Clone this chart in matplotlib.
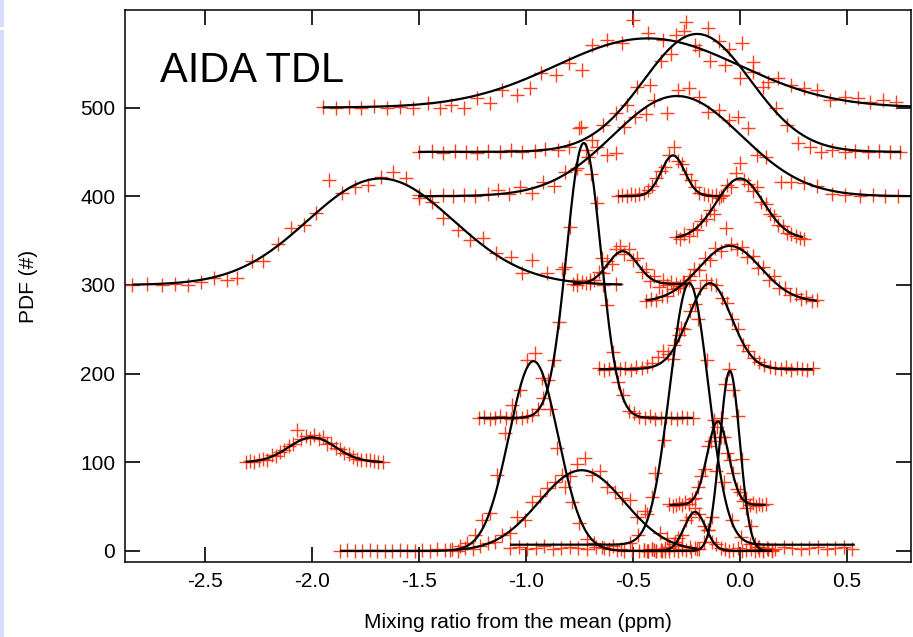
import numpy as np
import matplotlib
matplotlib.use('Agg')
import matplotlib.pyplot as plt
from matplotlib.patches import Rectangle

plt.rcParams['font.family'] = ['Liberation Sans', 'DejaVu Sans']
plt.rcParams['axes.unicode_minus'] = False

# ---------------- Gaussian fit parameters (one entry per curve) ----------------
fit_base   = [500, 450, 400, 352, 400, 300, 301, 281, 205, 150, 100, 0, 0, 7, 0, 52, 0]
fit_amp    = [78, 133, 113, 68, 46, 120, 37, 63, 97, 310, 28, 214, 91, 295, 203, 94, 44]
fit_center = [-0.43, -0.20, -0.294, 0.0, -0.313, -1.68, -0.548, -0.047, -0.14, -0.73,
              -2.0, -0.965, -0.74, -0.237, -0.047, -0.103, -0.21]
fit_sigma  = [0.43, 0.25, 0.30, 0.11, 0.055, 0.34, 0.07, 0.145, 0.10, 0.08,
              0.11, 0.115, 0.20, 0.09, 0.047, 0.05, 0.05]
fit_xmin   = [-1.95, -1.505, -1.505, -0.30, -0.57, -2.84, -0.78, -0.44, -0.66, -1.22,
              -2.31, -1.87, -1.355, -1.075, -0.45, -0.33, -0.45]
fit_xmax   = [0.80, 0.755, 0.80, 0.295, -0.09, -0.55, -0.25, 0.36, 0.34, -0.22,
              -1.67, -0.33, -0.20, 0.537, 0.15, 0.12, 0.15]

# ---------------- measured histogram points ----------------
s1_x = [-1.95,-1.89,-1.83,-1.77,-1.71,-1.65,-1.59,-1.53,-1.46,-1.40,-1.35,-1.29,-1.23,-1.17,-1.11,
        -1.04,-0.98,-0.93,-0.86,-0.80,-0.74,-0.69,-0.62,-0.55,-0.50,-0.43,-0.36,-0.30,-0.25,-0.19,
        -0.14,-0.07,0.01,0.06,0.13,0.18,0.24,0.30,0.36,0.42,0.49,0.55,0.61,0.67,0.73]
s1_y = [501,500,501,500,502,500,501,500,505,500,503,499,511,505,520,514,522,539,537,550,542,570,
        576,573,599,584,576,582,596,565,553,548,573,551,529,533,525,522,520,508,512,511,506,508,506]

s2_x = [-1.50,-1.44,-1.39,-1.33,-1.28,-1.23,-1.18,-1.12,-1.07,-1.02,-0.96,-0.91,-0.85,-0.80,-0.75,
        -0.69,-0.64,-0.58,-0.53,-0.48,-0.42,-0.37,-0.32,-0.26,-0.21,-0.15,-0.10,-0.05,0.00,0.06,
        0.11,0.17,0.22,0.27,0.33,0.38,0.43,0.49,0.54,0.60,0.65,0.70,0.75]
s2_y = [450,451,449,451,450,449,451,450,452,450,451,453,452,455,477,463,480,494,503,523,525,552,
        560,586,570,590,575,566,533,540,523,500,480,460,455,450,452,450,451,450,451,450,450]

s3_x = [-1.50,-1.45,-1.39,-1.34,-1.29,-1.24,-1.18,-1.13,-1.08,-1.03,-0.97,-0.92,-0.87,-0.82,-0.76,
        -0.71,-0.67,-0.62,-0.58,-0.54,-0.49,-0.44,-0.40,-0.34,-0.29,-0.24,-0.19,-0.15,-0.10,-0.05,
        -0.01,0.04,0.08,0.12,0.19,0.24,0.30,0.36,0.43,0.49,0.56,0.62,0.68,0.74]
s3_y = [401,400,401,400,401,400,402,407,403,410,404,416,412,427,432,444,455,447,449,478,489,493,
        508,494,520,522,512,495,497,486,489,477,446,444,416,416,415,411,403,401,400,401,400,400]

s4_x = [-0.30,-0.28,-0.26,-0.24,-0.22,-0.20,-0.18,-0.16,-0.14,-0.12,-0.10,-0.08,-0.06,-0.04,-0.02,
        0.00,0.02,0.04,0.06,0.08,0.10,0.12,0.14,0.16,0.18,0.20,0.22,0.24,0.26,0.28,0.30]
s4_y = [354,352,357,355,363,362,372,374,385,380,398,401,413,410,426,437,418,414,406,410,394,391,
        380,378,368,366,359,357,355,353,352]

s5_x = [-0.57,-0.55,-0.53,-0.51,-0.49,-0.47,-0.45,-0.43,-0.41,-0.39,-0.37,-0.35,-0.33,-0.31,-0.29,
        -0.27,-0.25,-0.23,-0.21,-0.19,-0.17,-0.15,-0.13,-0.11,-0.09]
s5_y = [400,401,400,402,401,403,404,407,412,420,428,433,447,455,440,436,425,418,410,404,402,401,
        400,401,400]

s6_x = [-2.84,-2.77,-2.70,-2.64,-2.58,-2.52,-2.46,-2.40,-2.35,-2.28,-2.23,-2.16,-2.10,-2.04,-1.98,
        -1.92,-1.86,-1.80,-1.74,-1.68,-1.62,-1.56,-1.50,-1.44,-1.39,-1.32,-1.26,-1.20,-1.14,-1.07,
        -1.02,-0.97,-0.90,-0.83,-0.76,-0.70,-0.64,-0.58]
s6_y = [300,301,300,301,300,303,308,306,308,327,327,346,364,367,381,418,404,410,413,422,427,420,
        398,393,375,362,351,353,336,332,313,328,313,318,306,302,300,301]

s7_x = [-0.78,-0.76,-0.74,-0.72,-0.70,-0.68,-0.66,-0.64,-0.62,-0.60,-0.58,-0.56,-0.54,-0.52,-0.50,
        -0.48,-0.46,-0.44,-0.42,-0.40,-0.38,-0.36,-0.34,-0.32,-0.30,-0.28,-0.26]
s7_y = [301,300,303,302,306,305,314,313,327,324,340,344,335,341,328,330,315,318,304,310,298,305,
        300,303,301,299,302]

s8_x = [-0.44,-0.415,-0.39,-0.365,-0.34,-0.315,-0.29,-0.265,-0.24,-0.215,-0.19,-0.165,-0.14,-0.115,
        -0.09,-0.065,-0.04,-0.015,0.01,0.035,0.06,0.085,0.11,0.135,0.16,0.185,0.21,0.235,0.26,
        0.285,0.31,0.335,0.36]
s8_y = [282,284,283,288,287,295,296,303,305,318,317,330,328,342,338,364,346,340,343,331,333,319,
        320,306,310,296,297,289,290,284,286,282,283]

s9_x = [-0.66,-0.635,-0.61,-0.585,-0.56,-0.535,-0.51,-0.485,-0.46,-0.435,-0.41,-0.385,-0.36,-0.335,
        -0.31,-0.285,-0.26,-0.235,-0.21,-0.185,-0.16,-0.135,-0.11,-0.085,-0.06,-0.035,-0.01,0.015,
        0.04,0.065,0.09,0.115,0.14,0.165,0.19,0.215,0.24,0.265,0.29,0.315,0.34]
s9_y = [206,204,205,207,205,206,204,207,206,209,212,219,225,222,232,243,250,270,278,296,306,301,
        300,285,280,262,250,232,226,218,213,210,207,206,205,207,204,206,205,204,206]

s10_x = [-1.22,-1.195,-1.17,-1.145,-1.12,-1.095,-1.07,-1.045,-1.02,-0.995,-0.97,-0.945,-0.92,-0.895,
         -0.87,-0.845,-0.82,-0.795,-0.77,-0.745,-0.72,-0.695,-0.67,-0.645,-0.62,-0.595,-0.57,-0.545,
         -0.52,-0.495,-0.47,-0.445,-0.42,-0.395,-0.37,-0.345,-0.32,-0.295,-0.27,-0.245,-0.22]
s10_y = [150,151,149,150,152,150,149,151,150,152,153,160,172,193,215,258,320,365,430,478,452,425,
         392,330,277,224,190,176,158,156,151,150,152,149,150,151,150,149,151,150,150]

s11_x = [-2.31,-2.29,-2.27,-2.25,-2.23,-2.21,-2.19,-2.17,-2.15,-2.13,-2.11,-2.09,-2.07,-2.05,-2.03,
         -2.01,-1.99,-1.97,-1.95,-1.93,-1.91,-1.89,-1.87,-1.85,-1.83,-1.81,-1.79,-1.77,-1.75,-1.73,
         -1.71,-1.69,-1.67]
s11_y = [100,101,100,102,104,103,108,107,112,114,118,121,136,126,130,127,131,126,128,121,122,116,
         115,110,109,106,104,103,102,102,101,100,100]

s12_x = [-1.87,-1.835,-1.80,-1.765,-1.73,-1.695,-1.66,-1.625,-1.59,-1.555,-1.52,-1.485,-1.45,-1.415,
         -1.38,-1.345,-1.31,-1.275,-1.24,-1.205,-1.17,-1.135,-1.10,-1.065,-1.03,-0.995,-0.96,-0.925,
         -0.89,-0.855,-0.82,-0.785,-0.75,-0.715,-0.68,-0.645,-0.61,-0.575,-0.54,-0.505,-0.47,-0.435,
         -0.40,-0.365,-0.33]
s12_y = [0,1,0,0,1,0,0,0,1,0,0,1,0,2,1,2,5,9,18,35,43,86,133,165,181,215,223,195,160,116,72,55,
         32,14,9,4,2,1,0,1,0,0,1,0,0]

s13_x = [-1.355,-1.32,-1.285,-1.25,-1.215,-1.18,-1.145,-1.11,-1.075,-1.04,-1.005,-0.97,-0.935,-0.90,
         -0.865,-0.83,-0.795,-0.76,-0.725,-0.69,-0.655,-0.62,-0.585,-0.55,-0.515,-0.48,-0.445,-0.41,
         -0.375,-0.34,-0.305,-0.27,-0.235,-0.20]
s13_y = [1,0,3,2,6,9,10,18,20,38,35,55,62,71,78,86,84,98,105,86,90,72,66,60,57,38,45,61,20,15,10,
         6,4,2]

s14_x = [-1.075,-1.035,-0.995,-0.955,-0.915,-0.875,-0.835,-0.795,-0.755,-0.715,-0.675,-0.635,-0.595,
         -0.555,-0.515,-0.475,-0.435,-0.395,-0.355,-0.315,-0.275,-0.235,-0.195,-0.155,-0.115,-0.075,
         -0.035,0.005,0.045,0.085,0.125,0.165,0.205,0.245,0.285,0.325,0.365,0.405,0.445,0.485,0.525]
s14_y = [3,4,2,3,5,2,3,4,3,2,4,3,5,2,9,18,42,88,125,216,251,310,262,215,128,78,35,16,8,4,3,2,4,3,
         2,3,4,2,3,4,2]

s15_x = [-0.45,-0.43,-0.41,-0.39,-0.37,-0.35,-0.33,-0.31,-0.29,-0.27,-0.25,-0.23,-0.21,-0.19,-0.17,
         -0.15,-0.13,-0.11,-0.09,-0.07,-0.05,-0.03,-0.01,0.01,0.03,0.05,0.07,0.09,0.11,0.13,0.15]
s15_y = [1,0,2,0,1,0,3,1,0,2,1,0,3,2,10,24,38,90,128,188,205,182,152,104,48,28,8,4,1,2,0]

s16_x = [-0.33,-0.315,-0.30,-0.285,-0.27,-0.255,-0.24,-0.225,-0.21,-0.195,-0.18,-0.165,-0.15,-0.135,
         -0.12,-0.105,-0.09,-0.075,-0.06,-0.045,-0.03,-0.015,0.0,0.015,0.03,0.045,0.06,0.075,0.09,
         0.105,0.12]
s16_y = [53,51,52,54,52,55,53,58,60,72,84,92,118,124,148,140,150,128,110,102,88,70,66,56,58,52,54,
         51,53,52,53]

s17_x = [-0.45,-0.43,-0.41,-0.39,-0.37,-0.35,-0.33,-0.31,-0.29,-0.27,-0.25,-0.23,-0.21,-0.19,-0.17,
         -0.15,-0.13,-0.11,-0.09,-0.07,-0.05,-0.03,-0.01,0.01,0.03,0.05,0.07,0.09,0.11,0.13,0.15]
s17_y = [1,0,2,0,1,3,4,8,15,18,35,38,48,42,28,24,10,8,3,2,0,1,3,0,1,2,0,1,0,2,1]

x_ticks = [-2.5, -2.0, -1.5, -1.0, -0.5, 0.0, 0.5]
x_tick_labels = ['-2.5', '-2.0', '-1.5', '-1.0', '-0.5', '0.0', '0.5']
y_ticks = [0, 100, 200, 300, 400, 500]
y_tick_labels = ['0', '100', '200', '300', '400', '500']

series = [(s1_x, s1_y), (s2_x, s2_y), (s3_x, s3_y), (s4_x, s4_y), (s5_x, s5_y), (s6_x, s6_y),
          (s7_x, s7_y), (s8_x, s8_y), (s9_x, s9_y), (s10_x, s10_y), (s11_x, s11_y),
          (s12_x, s12_y), (s13_x, s13_y), (s14_x, s14_y), (s15_x, s15_y), (s16_x, s16_y),
          (s17_x, s17_y)]

W, H = 913, 637
fig = plt.figure(figsize=(W / 100, H / 100), dpi=100)
fig.patches.append(Rectangle((0, 0), 4 / W, 1, transform=fig.transFigure,
                             facecolor='#d8dbfb', edgecolor='none', zorder=0))
fig.patches.append(Rectangle((0, 1 - 30 / H), 4 / W, 3 / H, transform=fig.transFigure,
                             facecolor='white', edgecolor='none', zorder=1))

ax = fig.add_axes([125 / W, 75 / H, 786 / W, 552 / H])

for sx, sy in series:
    ax.plot(sx, sy, linestyle='none', marker='+', markersize=10, markeredgewidth=1.0,
            color='#ff2a00', alpha=0.9, zorder=2)

for b, a, c, s, x0, x1 in zip(fit_base, fit_amp, fit_center, fit_sigma, fit_xmin, fit_xmax):
    xx = np.linspace(x0, x1, 400)
    ax.plot(xx, b + a * np.exp(-(xx - c) ** 2 / (2 * s ** 2)), color='black', lw=1.6,
            zorder=3, solid_capstyle='butt')

ax.set_xlim(-2.875, 0.8)
ax.set_ylim(-12.5, 610)
ax.set_xticks(x_ticks)
ax.set_xticklabels(x_tick_labels)
ax.set_yticks(y_ticks)
ax.set_yticklabels(y_tick_labels)
ax.tick_params(direction='in', length=11, width=1.2, top=True, right=True,
               labelsize=15, pad=7, colors='black')
for sp in ax.spines.values():
    sp.set_linewidth(1.1)

ax.set_xlabel('Mixing ratio from the mean (ppm)', fontsize=15, labelpad=16)
ax.set_ylabel('PDF (#)', fontsize=15, labelpad=30)
ax.text(0.045, 0.87, 'AIDA TDL', transform=ax.transAxes, fontsize=30, va='baseline')

fig.savefig('out.png', dpi=100)
